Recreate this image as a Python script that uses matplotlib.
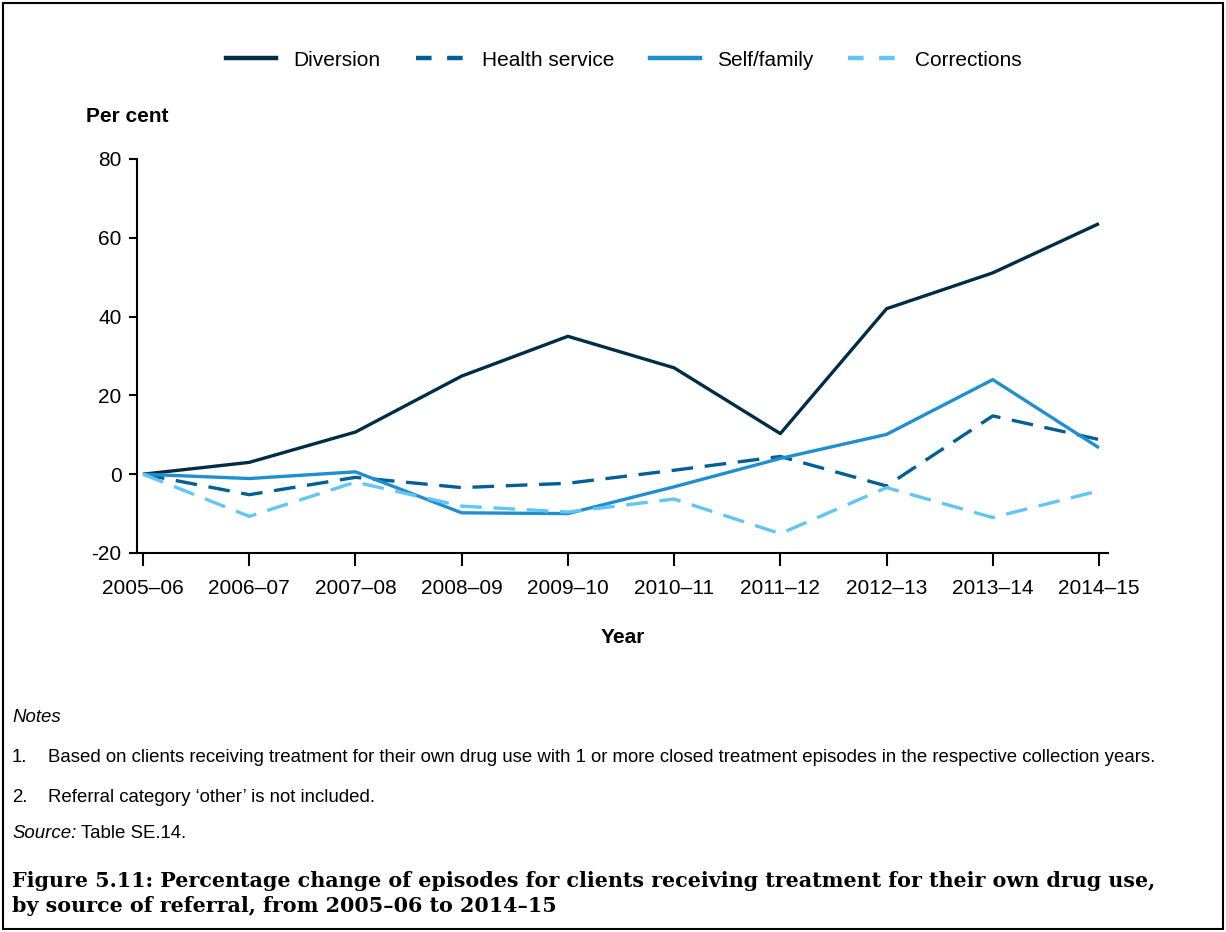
import matplotlib
matplotlib.use("Agg")
import matplotlib.pyplot as plt
from matplotlib.patches import Rectangle
from matplotlib.lines import Line2D

years = ["2005–06", "2006–07", "2007–08", "2008–09", "2009–10",
         "2010–11", "2011–12", "2012–13", "2013–14", "2014–15"]

diversion = [0, 3.0, 10.7, 24.9, 35.0, 27.0, 10.3, 42.0, 51.1, 63.6]
health_service = [0, -5.2, -0.8, -3.4, -2.3, 1.0, 4.5, -3.0, 14.8, 8.8]
self_family = [0, -1.1, 0.6, -9.8, -10.0, -3.2, 4.0, 10.1, 24.0, 6.7]
corrections = [0, -10.7, -2.0, -8.1, -9.6, -6.3, -15.1, -3.4, -11.0, -4.2]

series_names = ["Diversion", "Health service", "Self/family", "Corrections"]
series_colors = ["#002d46", "#005f94", "#1f8fd0", "#62c6f2"]
series_dashed = [False, True, False, True]

plt.rcParams['font.family'] = ['Liberation Sans', 'DejaVu Sans']
plt.rcParams['axes.unicode_minus'] = False

W, H = 1226, 932
fig = plt.figure(figsize=(W / 100, H / 100), dpi=100)

# outer frame
fig.patches.append(Rectangle((3 / W, 3 / H), 1 - 6 / W, 1 - 6 / H, transform=fig.transFigure,
                             fill=False, edgecolor="black", linewidth=1.5))

ax = fig.add_axes([137 / W, 1 - 553 / H, (1108 - 137) / W, (553 - 159) / H])

x = list(range(len(years)))
all_series = [diversion, health_service, self_family, corrections]
for vals, name, col, dashed in zip(all_series, series_names, series_colors, series_dashed):
    line, = ax.plot(x, vals, color=col, linewidth=2.4, label=name, solid_capstyle="butt",
                    dash_capstyle="butt")
    if dashed:
        line.set_dashes((6.5, 3.5))

step = (1099 - 143) / 9
ax.set_xlim(-(143 - 137) / step, 9 + (1108 - 1099) / step)
ax.set_ylim(-20, 80)
ax.set_yticks([-20, 0, 20, 40, 60, 80])
ax.set_xticks(x)
ax.set_xticklabels(years)
ax.tick_params(axis="x", length=9, width=1.5, labelsize=15, pad=10)
ax.tick_params(axis="y", length=6, width=1.5, labelsize=15, pad=5)
for s in ["top", "right"]:
    ax.spines[s].set_visible(False)
for s in ["left", "bottom"]:
    ax.spines[s].set_linewidth(1.5)

ax.set_xlabel("Year", fontsize=15, fontweight="bold", labelpad=21)
fig.text(86 / W, 1 - 117 / H, "Per cent", fontsize=15, fontweight="bold", va="center", ha="left")

leg_handles = []
for name, col, dashed in zip(series_names, series_colors, series_dashed):
    h = Line2D([0], [0], color=col, linewidth=3.2, linestyle=(0, (3.5, 3.5)) if dashed else "-")
    leg_handles.append(h)
fig.legend(leg_handles, series_names, loc="center", bbox_to_anchor=(624 / W, 1 - 60 / H),
           ncol=4, frameon=False, fontsize=15, handlelength=2.4, columnspacing=1.7,
           handletextpad=0.8)

# notes
fs = 13.45
fig.text(12 / W, 1 - 717 / H, "Notes", fontsize=fs, style="italic", va="center")
fig.text(12 / W, 1 - 757 / H, "1.", fontsize=fs, va="center")
fig.text(48 / W, 1 - 757 / H,
         "Based on clients receiving treatment for their own drug use with 1 or more closed treatment episodes in the respective collection years.",
         fontsize=fs, va="center")
fig.text(12 / W, 1 - 797 / H, "2.", fontsize=fs, va="center")
fig.text(48 / W, 1 - 797 / H, "Referral category \u2018other\u2019 is not included.", fontsize=fs, va="center")
src = fig.text(12 / W, 1 - 834 / H, "Source:", fontsize=fs, style="italic", va="center")
fig.canvas.draw()
bb = src.get_window_extent()
fig.text((bb.x1 + 5) / W, 1 - 834 / H, "Table SE.14.", fontsize=fs, va="center")

fig.text(12 / W, 1 - 871 / H,
         "Figure 5.11: Percentage change of episodes for clients receiving treatment for their own drug use,\nby source of referral, from 2005\u201306 to 2014\u201315",
         fontsize=14.9, fontweight="bold", family=["DejaVu Serif"],
         va="top", linespacing=1.3)

fig.savefig("out.png", dpi=100)
